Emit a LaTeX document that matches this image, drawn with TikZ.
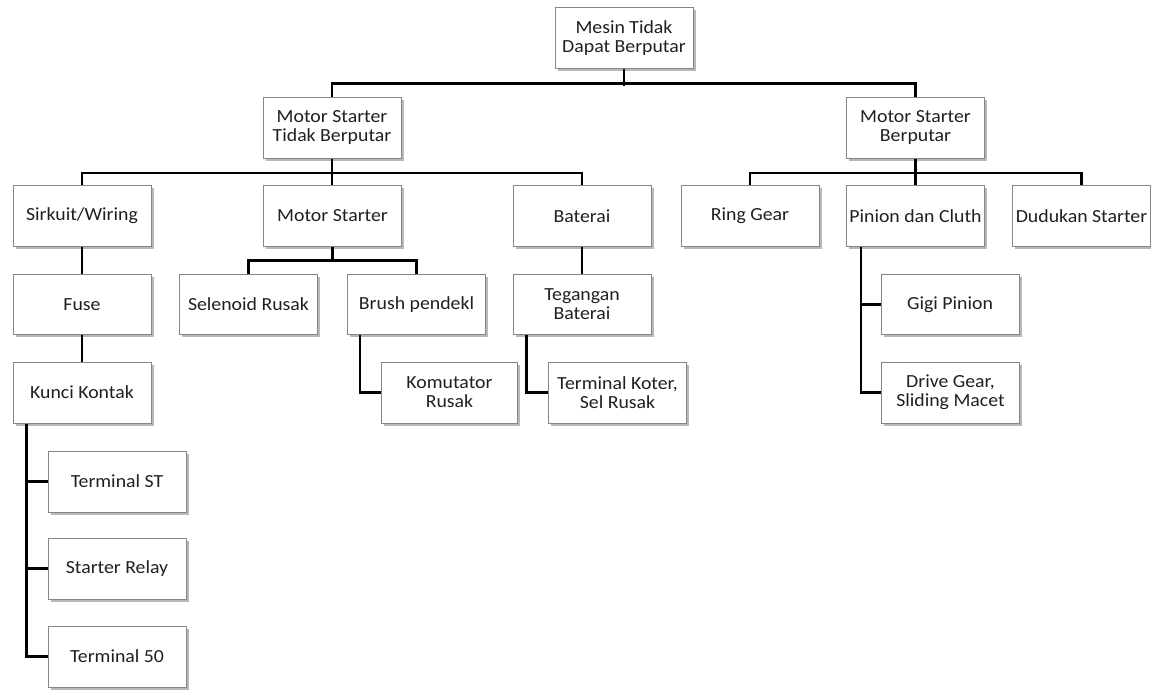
\documentclass[tikz,border=0pt]{standalone}
\usepackage{fontspec}
\setmainfont{Carlito}[FakeStretch=1.07]
\usetikzlibrary{shadows}
\definecolor{boxline}{HTML}{858585}
\definecolor{txt}{HTML}{202020}
\begin{document}
\begin{tikzpicture}[x=1pt,y=-1pt,
  box/.style={draw=boxline, line width=1pt, fill=white, text=txt,
    minimum width=138pt, minimum height=61pt, inner sep=0pt, align=center,
    font=\fontsize{18.5}{19}\selectfont,
    drop shadow={shadow xshift=2.5pt, shadow yshift=-2.5pt, fill=black!35, opacity=0.8}},
  link/.style={draw=black, line width=2.3pt}]
\useasboundingbox (0,0) rectangle (1151,689);
% level 0
\node[box] (root) at (624,38) {Mesin Tidak\\Dapat Berputar};
% level 1
\node[box] (mstb) at (332,127.5) {Motor Starter\\Tidak Berputar};
\node[box] (msb) at (915.5,127.5) {Motor Starter\\Berputar};
% level 2
\node[box] (sw) at (82,216) {Sirkuit/Wiring};
\node[box] (ms) at (332.5,216) {Motor Starter};
\node[box] (bat) at (582,216) {Baterai};
\node[box] (rg) at (750,216) {Ring Gear};
\node[box] (pdc) at (915.5,216) {Pinion dan Cluth};
\node[box] (ds) at (1081.5,216) {Dudukan Starter};
% level 3
\node[box, minimum height=60pt] (fuse) at (82,304.5) {Fuse};
\node[box, minimum height=60pt] (sel) at (248.5,304) {Selenoid Rusak};
\node[box, minimum height=60pt] (brush) at (416.5,304.5) {Brush pendekl};
\node[box, minimum height=60pt] (teg) at (582,304.5) {Tegangan\\Baterai};
\node[box, minimum height=60pt] (gigi) at (950,304.5) {Gigi Pinion};
% level 4
\node[box] (kk) at (82,392.5) {Kunci Kontak};
\node[box, minimum width=136pt] (kom) at (449.5,392.5) {Komutator\\Rusak};
\node[box] (term) at (617.5,392.5) {Terminal Koter,\\Sel Rusak};
\node[box] (drive) at (950.5,392.5) {Drive Gear,\\Sliding Macet};
% level 5
\node[box] (tst) at (117,481.5) {Terminal ST};
\node[box] (sr) at (117,568.5) {Starter Relay};
\node[box] (t50) at (117,656.5) {Terminal 50};
% connectors
\draw[link] (root.south) -- ++(0,16.5);
\draw[link] (mstb.north) -- ++(0,-13) -| (msb.north);
\draw[link] (mstb.south) -- (mstb.south |- ms.north);
\draw[link] (sw.north) -- ++(0,-12) -| (bat.north);
\draw[link] (msb.south) -- (pdc.north);
\draw[link] (rg.north) -- ++(0,-12) -| (ds.north);
\draw[link] (sw.south) -- (fuse.north);
\draw[link] (fuse.south) -- (kk.north);
\draw[link] (bat.south) -- (teg.north);
\draw[link] (ms.south) -- ++(0,14);
\draw[link] (sel.north) -- ++(0,-13) -| (brush.north);
\draw[link] ([xshift=13pt]brush.south west) |- (kom.west);
\draw[link] ([xshift=14pt]teg.south west) |- (term.west);
\draw[link] ([xshift=15pt]pdc.south west) |- (gigi.west);
\draw[link] ([xshift=15pt]pdc.south west) |- (drive.west);
\draw[link] ([xshift=14pt]kk.south west) |- (tst.west);
\draw[link] ([xshift=14pt]kk.south west) |- (sr.west);
\draw[link] ([xshift=14pt]kk.south west) |- (t50.west);
\end{tikzpicture}
\end{document}
